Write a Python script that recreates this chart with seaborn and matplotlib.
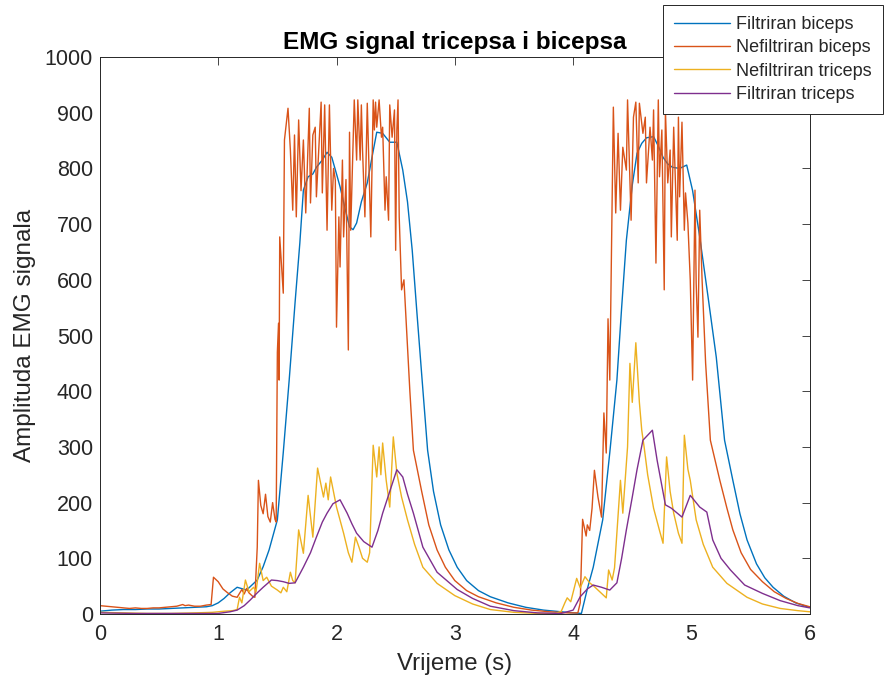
import numpy as np
import pandas as pd
import matplotlib
matplotlib.use("Agg")
import matplotlib.pyplot as plt
import seaborn as sns

# Filtriran biceps
t_fb = [0, 0.1, 0.2, 0.3, 0.4, 0.5, 0.6, 0.7, 0.8, 0.9, 0.95, 1.0, 1.05, 1.1, 1.16, 1.24,
        1.33, 1.38, 1.43, 1.5, 1.55, 1.6, 1.65, 1.69, 1.72, 1.76, 1.8, 1.83, 1.88, 1.92,
        1.96, 2.0, 2.03, 2.07, 2.11, 2.14, 2.17, 2.21, 2.26, 2.3, 2.34, 2.39, 2.45, 2.51,
        2.56, 2.6, 2.64, 2.68, 2.72, 2.77, 2.82, 2.88, 2.95, 3.02, 3.1, 3.2, 3.3, 3.45,
        3.6, 3.75, 3.9, 4.0, 4.07, 4.12, 4.17, 4.25, 4.31, 4.37, 4.41, 4.45, 4.5, 4.54,
        4.58, 4.62, 4.68, 4.72, 4.76, 4.8, 4.84, 4.9, 4.96, 5.01, 5.07, 5.14, 5.21, 5.28,
        5.35, 5.41, 5.47, 5.55, 5.62, 5.69, 5.78, 5.88, 5.98, 6.0]
v_fb = [5, 7, 8, 8, 9, 9, 10, 11, 12, 13, 15, 20, 28, 38, 48, 43,
        61, 85, 115, 169, 290, 420, 560, 666, 761, 785, 790, 802, 815, 829,
        820, 790, 767, 730, 695, 690, 702, 740, 774, 820, 865, 863, 847, 847,
        797, 740, 653, 540, 430, 294, 220, 160, 115, 84, 60, 42, 31, 20,
        12, 7, 4, 2, 1, 45, 84, 169, 290, 420, 550, 671, 770, 827,
        845, 855, 857, 840, 820, 808, 802, 800, 806, 760, 677, 570, 461, 312,
        240, 180, 133, 90, 65, 48, 32, 20, 13, 12]

# Nefiltriran biceps
t_nb = [0, 0.05, 0.1, 0.15, 0.2, 0.25, 0.3, 0.35, 0.4, 0.45, 0.5, 0.55, 0.6, 0.65, 0.7,
        0.72, 0.75, 0.8, 0.85, 0.9, 0.94, 0.96, 1.0, 1.04, 1.08, 1.12, 1.16, 1.2, 1.22,
        1.24, 1.26, 1.29, 1.31, 1.33, 1.34, 1.36, 1.38, 1.4, 1.42, 1.44, 1.46, 1.48, 1.49,
        1.5, 1.51, 1.515, 1.52, 1.55, 1.56, 1.59, 1.61, 1.63, 1.645, 1.66, 1.68, 1.7, 1.72,
        1.74, 1.77, 1.78, 1.8, 1.82, 1.83, 1.87, 1.88, 1.9, 1.92, 1.94, 1.96, 1.975, 1.99,
        2.0, 2.02, 2.03, 2.05, 2.06, 2.08, 2.1, 2.11, 2.12, 2.15, 2.17, 2.18, 2.2, 2.21,
        2.22, 2.24, 2.26, 2.275, 2.29, 2.31, 2.32, 2.33, 2.34, 2.36, 2.38, 2.39, 2.41, 2.42,
        2.44, 2.45, 2.47, 2.49, 2.5, 2.51, 2.52, 2.53, 2.55, 2.57, 2.58, 2.6, 2.62, 2.65,
        2.72, 2.78, 2.85, 2.92, 3.0, 3.1, 3.2, 3.35, 3.5, 3.65, 3.8, 3.95, 4.04, 4.06,
        4.08, 4.11, 4.12, 4.14, 4.16, 4.18, 4.21, 4.24, 4.26, 4.28, 4.295, 4.31, 4.34, 4.36,
        4.38, 4.4, 4.42, 4.45, 4.46, 4.49, 4.51, 4.53, 4.55, 4.56, 4.59, 4.61, 4.62, 4.65,
        4.67, 4.68, 4.7, 4.72, 4.73, 4.75, 4.77, 4.78, 4.8, 4.82, 4.83, 4.85, 4.88, 4.89,
        4.9, 4.92, 4.94, 4.95, 4.97, 4.99, 5.01, 5.03, 5.04, 5.055, 5.07, 5.09, 5.12, 5.16,
        5.24, 5.3, 5.35, 5.42, 5.5, 5.6, 5.7, 5.8, 5.9, 6.0]
v_nb = [15, 14, 13, 12, 11, 10, 11, 10, 10, 11, 11, 12, 13, 14, 17,
        15, 16, 14, 14, 16, 17, 66, 58, 45, 38, 32, 30, 44, 36,
        46, 38, 32, 30, 120, 240, 195, 180, 215, 175, 165, 200, 170, 165,
        470, 522, 420, 677, 576, 851, 908, 833, 725, 860, 713, 887, 760, 851,
        720, 908, 738, 860, 874, 749, 919, 756, 914, 689, 914, 725, 800, 779,
        515, 713, 623, 815, 677, 780, 474, 865, 689, 923, 815, 923, 815, 914,
        833, 713, 917, 800, 677, 923, 869, 919, 874, 923, 856, 874, 725, 785,
        707, 914, 856, 905, 653, 869, 923, 713, 582, 600, 560, 480, 400, 294,
        220, 160, 115, 84, 60, 42, 31, 20, 12, 7, 4, 2, 2, 20,
        170, 140, 160, 150, 190, 258, 210, 174, 361, 289, 530, 420, 910, 720,
        863, 725, 838, 797, 923, 707, 892, 919, 774, 917, 863, 892, 774, 874,
        815, 905, 630, 923, 785, 869, 582, 905, 774, 833, 677, 874, 671, 892,
        749, 883, 689, 756, 702, 600, 420, 761, 594, 497, 725, 600, 450, 312,
        240, 190, 151, 110, 80, 58, 40, 28, 19, 13]

# Nefiltriran triceps
t_nt = [0, 0.2, 0.4, 0.6, 0.8, 0.95, 1.05, 1.12, 1.16, 1.18, 1.2, 1.23, 1.26, 1.3, 1.32,
        1.35, 1.38, 1.41, 1.45, 1.5, 1.53, 1.55, 1.58, 1.61, 1.63, 1.65, 1.68, 1.72, 1.76,
        1.8, 1.84, 1.89, 1.91, 1.93, 1.95, 2.0, 2.06, 2.1, 2.13, 2.16, 2.19, 2.22, 2.26,
        2.28, 2.31, 2.34, 2.36, 2.375, 2.39, 2.42, 2.45, 2.48, 2.51, 2.55, 2.6, 2.66, 2.73,
        2.85, 3.0, 3.15, 3.3, 3.5, 3.7, 3.85, 3.9, 3.93, 3.95, 3.98, 4.03, 4.06, 4.1,
        4.14, 4.18, 4.28, 4.3, 4.33, 4.35, 4.4, 4.42, 4.46, 4.48, 4.5, 4.53, 4.56, 4.58,
        4.6, 4.63, 4.68, 4.73, 4.76, 4.79, 4.82, 4.85, 4.89, 4.92, 4.94, 4.97, 4.99, 5.04,
        5.1, 5.18, 5.3, 5.47, 5.6, 5.75, 5.9, 6.0]
v_nt = [3, 2, 1, 1, 2, 3, 5, 6, 8, 30, 20, 61, 40, 48, 40,
        91, 60, 66, 50, 43, 38, 48, 40, 75, 60, 56, 151, 109, 213,
        138, 262, 210, 235, 205, 246, 192, 145, 110, 93, 138, 120, 100, 93,
        110, 303, 246, 300, 250, 307, 240, 192, 318, 253, 210, 169, 125, 84,
        55, 33, 18, 8, 3, 1, 1, 5, 20, 29, 22, 64, 47, 67,
        56, 49, 29, 79, 61, 83, 240, 181, 300, 450, 380, 487, 380, 330,
        300, 250, 190, 150, 127, 282, 220, 181, 145, 127, 321, 260, 240, 169,
        125, 84, 55, 30, 18, 10, 6, 4]

# Filtriran triceps
t_ft = [0, 0.3, 0.6, 0.9, 1.0, 1.1, 1.16, 1.22, 1.27, 1.33, 1.38, 1.45, 1.5, 1.55, 1.6,
        1.65, 1.72, 1.78, 1.83, 1.88, 1.92, 1.97, 2.03, 2.09, 2.13, 2.17, 2.23, 2.3, 2.35,
        2.39, 2.45, 2.51, 2.56, 2.6, 2.65, 2.73, 2.85, 3.02, 3.15, 3.3, 3.5, 3.7, 3.9,
        4.0, 4.06, 4.12, 4.17, 4.24, 4.31, 4.37, 4.41, 4.45, 4.5, 4.54, 4.59, 4.67, 4.71,
        4.78, 4.83, 4.92, 4.99, 5.07, 5.13, 5.18, 5.25, 5.33, 5.45, 5.6, 5.75, 5.9, 6.0]
v_ft = [2, 1, 1, 1, 1, 4, 7, 15, 25, 38, 48, 61, 60, 58, 55,
        56, 84, 110, 138, 165, 181, 198, 205, 181, 162, 145, 130, 120, 150,
        181, 220, 259, 246, 215, 181, 120, 75, 44, 28, 14, 6, 2, 1,
        7, 31, 45, 52, 48, 43, 56, 100, 151, 210, 259, 312, 330, 276,
        196, 190, 174, 213, 192, 183, 133, 100, 79, 52, 37, 24, 15, 11]

series = [
    ("Filtriran biceps", t_fb, v_fb, "#0072BD"),
    ("Nefiltriran biceps", t_nb, v_nb, "#D95319"),
    ("Nefiltriran triceps", t_nt, v_nt, "#EDB120"),
    ("Filtriran triceps", t_ft, v_ft, "#7E2F8E"),
]

sns.set_theme(style="white")
plt.rcParams['font.family'] = ['Liberation Sans', 'DejaVu Sans']

fig = plt.figure(figsize=(8.84, 6.82), dpi=100)
ax = fig.add_axes([0.113, 0.0997, 0.803, 0.8167])

for name, t, v, color in series:
    df = pd.DataFrame({"t": t, "v": v})
    sns.lineplot(data=df, x="t", y="v", ax=ax, color=color, linewidth=1.0,
                 label=name, sort=False, estimator=None)

ax.set_xlim(0, 6)
ax.set_ylim(0, 1000)
ax.set_xticks(range(0, 7))
ax.set_yticks(range(0, 1001, 100))
ax.tick_params(direction='in', length=6, width=0.6, colors='#262626',
               labelsize=15.5, top=True, right=True, pad=5)
ax.tick_params(axis='x', pad=7)
for s in ax.spines.values():
    s.set_color('#262626')
    s.set_linewidth(0.7)
ax.set_xlabel('Vrijeme (s)', fontsize=17.3, color='#262626', labelpad=6)
ax.set_ylabel('Amplituda EMG signala', fontsize=17.5, color='#262626', labelpad=6)
ax.set_title('EMG signal tricepsa i bicepsa', fontsize=17.5, fontweight='bold',
             color='black', pad=6)

leg = ax.legend(loc='upper left', bbox_to_anchor=(0.75, 0.993),
                bbox_transform=fig.transFigure, fontsize=13, frameon=True,
                fancybox=False, framealpha=1, edgecolor='#262626',
                handlelength=3.1, handletextpad=0.35, labelspacing=0.35,
                borderpad=0.62, borderaxespad=0)
leg.get_frame().set_linewidth(0.7)
for line in leg.get_lines():
    line.set_linewidth(1.0)

fig.savefig('out.png', dpi=100)
